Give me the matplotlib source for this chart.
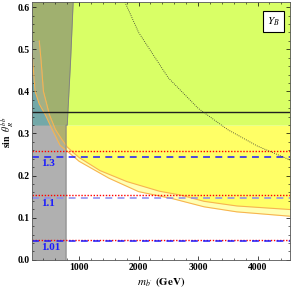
import numpy as np
import matplotlib
matplotlib.use('Agg')
import matplotlib.pyplot as plt
from matplotlib.ticker import MultipleLocator

plt.rcParams['font.family'] = ['Liberation Serif', 'DejaVu Serif']
plt.rcParams['mathtext.fontset'] = 'stix'

# Data
# upper edge of the pale band (start of the yellow region)
m_up = [330, 360, 400, 500, 600, 700, 800, 900, 1000, 1350, 1800, 2350, 2700, 3100, 3650, 4600]
s_up = [0.52, 0.474, 0.40, 0.345, 0.31, 0.288, 0.268, 0.255, 0.243, 0.212, 0.186, 0.163, 0.154, 0.139, 0.128, 0.119]
# lower edge of the pale band
m_lo = [210, 260, 330, 430, 513, 600, 680, 800, 1000, 1500, 2000, 2580, 3100, 3650, 4600]
s_lo = [0.49, 0.40, 0.37, 0.345, 0.32, 0.295, 0.272, 0.258, 0.234, 0.194, 0.162, 0.145, 0.126, 0.114, 0.103]
# excluded mass region edge
m_gray = [780, 780, 800, 857, 900]
s_gray = [0.0, 0.32, 0.32, 0.474, 0.612]
# dotted contour
m_dot = [1770, 2000, 2500, 3000, 3500, 4000, 4550]
s_dot = [0.612, 0.54, 0.432, 0.36, 0.309, 0.27, 0.237]

s_cut = 0.32
s_black = 0.35
red_lines = [0.258, 0.155, 0.048]
blue_lines = [0.245, 0.147, 0.045]
blue_colors = ['#1a1aff', '#8a8af0', '#1a1aff']
ratio_labels = ['1.3', '1.1', '1.01']
label_pos = [(480, 0.228), (480, 0.133), (520, 0.029)]

xmin, xmax = 210, 4550
ymin, ymax = 0.0, 0.612

fig = plt.figure(figsize=(2.92, 2.92), dpi=100)
ax = fig.add_axes([0.110, 0.110, 0.884, 0.883])

m = np.linspace(xmin, xmax, 800)
up = np.interp(m, m_up, s_up)
lo = np.interp(m, m_lo, s_lo)

# regions
ax.fill_between(m, np.minimum(lo, s_cut), np.minimum(up, s_cut), color='#ffffb4', lw=0)
ax.fill_between(m, np.minimum(up, s_cut), s_cut, color='#ffff66', lw=0)
ax.fill_between(m, np.maximum(up, s_cut), ymax, color='#d9ff66', lw=0)
ax.fill_between(m, np.maximum(lo, s_cut), np.maximum(up, s_cut), color='#e4ff9a', lw=0)
ax.fill_between(m, s_cut, np.maximum(lo, s_cut), color='#6eecec', lw=0)

ax.plot(m_up, s_up, color='#f7b450', lw=0.8)
ax.plot(m_lo, s_lo, color='#f7b450', lw=0.8)

# excluded region
ax.fill_betweenx(s_gray, xmin, m_gray, color='#777777', alpha=0.58, lw=0)
ax.plot(m_gray, s_gray, color='#808080', lw=0.6)

# lines
ax.axhline(s_black, color='#202020', lw=1.0)
for y in red_lines:
    ax.axhline(y, color='#ff0000', lw=1.0, ls=(0, (1, 1.2)))
for y, c in zip(blue_lines, blue_colors):
    ax.axhline(y, color=c, lw=1.1, ls=(0, (4.5, 3.5)))
ax.plot(m_dot, s_dot, color='#303030', lw=0.6, ls=(0, (1, 1.5)))

for (x, y), t in zip(label_pos, ratio_labels):
    ax.text(x, y, t, color='#1a1aff', fontsize=8, fontweight='bold', ha='center', va='center')

ax.text(0.935, 0.925, r'$Y_B$', transform=ax.transAxes, fontsize=8, ha='center', va='center',
        bbox=dict(boxstyle='square,pad=0.35', fc='white', ec='black', lw=0.8))

ax.set_xlim(xmin, xmax)
ax.set_ylim(ymin, ymax)
ax.xaxis.set_major_locator(MultipleLocator(1000))
ax.xaxis.set_minor_locator(MultipleLocator(200))
ax.yaxis.set_major_locator(MultipleLocator(0.1))
ax.yaxis.set_minor_locator(MultipleLocator(0.02))
ax.yaxis.set_major_formatter(plt.FormatStrFormatter('%.1f'))
ax.tick_params(which='both', direction='in', top=True, right=True, labelsize=7, pad=2)
ax.tick_params(which='major', length=3, width=0.5)
ax.tick_params(which='minor', length=1.5, width=0.4)
for lab in ax.get_xticklabels() + ax.get_yticklabels():
    lab.set_fontweight('bold')
for sp in ax.spines.values():
    sp.set_linewidth(0.6)
    sp.set_color('#555555')

ax.set_xlabel(r'$m_{b^\prime}$ $\mathbf{(GeV)}$', fontsize=8, labelpad=3)
ax.set_ylabel(r'$\mathbf{sin}\ \ \theta_R^{bb^\prime}$', fontsize=7, va='center')
ax.yaxis.set_label_coords(-0.097, 0.5)

fig.savefig('out.png', dpi=100)
